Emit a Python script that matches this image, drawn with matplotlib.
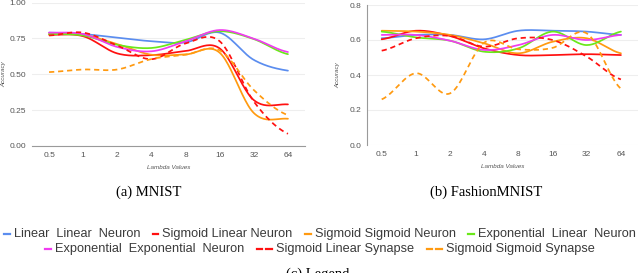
import numpy as np
import matplotlib

matplotlib.use("Agg")
import matplotlib.pyplot as plt
from matplotlib.lines import Line2D
from matplotlib.offsetbox import AnchoredOffsetbox, DrawingArea, HPacker, TextArea

plt.rcParams["font.family"] = ["Liberation Sans", "DejaVu Sans"]

lambdas = ["0.5", "1", "2", "4", "8", "16", "32", "64"]
series_names = [
    "Linear  Linear  Neuron",
    "Sigmoid Linear Neuron",
    "Sigmoid Sigmoid Neuron",
    "Exponential  Linear  Neuron",
    "Exponential  Exponential  Neuron",
    "Sigmoid Linear Synapse",
    "Sigmoid Sigmoid Synapse",
]

# MNIST accuracies, one list per series (same order as series_names)
mnist_lin_lin = [0.79, 0.78, 0.755, 0.73, 0.722, 0.79, 0.60, 0.525]
mnist_sig_lin = [0.775, 0.765, 0.645, 0.633, 0.662, 0.68, 0.32, 0.29]
mnist_sig_sig = [0.78, 0.775, 0.71, 0.636, 0.638, 0.65, 0.23, 0.19]
mnist_exp_lin = [0.78, 0.77, 0.705, 0.683, 0.74, 0.80, 0.745, 0.64]
mnist_exp_exp = [0.79, 0.78, 0.69, 0.66, 0.73, 0.808, 0.748, 0.655]
mnist_sig_lin_syn = [0.77, 0.79, 0.70, 0.605, 0.715, 0.73, 0.31, 0.085]
mnist_sig_sig_syn = [0.515, 0.533, 0.533, 0.606, 0.636, 0.667, 0.39, 0.215]

# FashionMNIST accuracies
fashion_lin_lin = [0.61, 0.629, 0.629, 0.604, 0.653, 0.653, 0.648, 0.629]
fashion_sig_lin = [0.604, 0.653, 0.623, 0.552, 0.514, 0.514, 0.519, 0.514]
fashion_sig_sig = [0.653, 0.648, 0.629, 0.581, 0.524, 0.59, 0.61, 0.524]
fashion_exp_lin = [0.648, 0.615, 0.596, 0.533, 0.552, 0.648, 0.571, 0.648]
fashion_exp_exp = [0.629, 0.629, 0.596, 0.543, 0.571, 0.629, 0.60, 0.629]
fashion_sig_lin_syn = [0.539, 0.61, 0.623, 0.562, 0.61, 0.60, 0.505, 0.375]
fashion_sig_sig_syn = [0.261, 0.41, 0.295, 0.585, 0.547, 0.555, 0.638, 0.322]

mnist = [mnist_lin_lin, mnist_sig_lin, mnist_sig_sig, mnist_exp_lin,
         mnist_exp_exp, mnist_sig_lin_syn, mnist_sig_sig_syn]
fashion = [fashion_lin_lin, fashion_sig_lin, fashion_sig_sig, fashion_exp_lin,
           fashion_exp_exp, fashion_sig_lin_syn, fashion_sig_sig_syn]

COLORS = ["#5b8def", "#ff1010", "#ff9a10", "#6ae81a", "#f03cf0", "#ff1010", "#ff9a10"]
DASHED = [False, False, False, False, False, True, True]
GRID = "#eeeeee"
AXIS = "#9a9a9a"
TICK = "#555555"


def smooth(values, steps=24):
    """Catmull-Rom curve through the points, like a 'function' curve chart."""
    p = np.asarray(values, dtype=float)
    p = np.concatenate([[p[0]], p, [p[-1]]])
    xs, ys = [], []
    t = np.linspace(0, 1, steps, endpoint=False)
    for i in range(1, len(p) - 2):
        p0, p1, p2, p3 = p[i - 1], p[i], p[i + 1], p[i + 2]
        y = 0.5 * (2 * p1 + (-p0 + p2) * t + (2 * p0 - 5 * p1 + 4 * p2 - p3) * t ** 2
                   + (-p0 + 3 * p1 - 3 * p2 + p3) * t ** 3)
        xs.append(i - 1 + t)
        ys.append(y)
    xs.append([len(p) - 3])
    ys.append([p[-2]])
    return np.concatenate(xs), np.concatenate(ys)


def draw_panel(ax, data, yticks, ylabels):
    for vals, color, dashed in zip(data, COLORS, DASHED):
        x, y = smooth(vals)
        ax.plot(x, y, color=color, lw=1.25, ls=(0, (3.0, 2.2)) if dashed else "-",
                solid_capstyle="round", zorder=3)
    ax.set_xticks(range(len(lambdas)), lambdas)
    ax.set_yticks(yticks, ylabels)
    ax.tick_params(length=0, labelsize=6, labelcolor=TICK)
    ax.tick_params(axis="x", pad=4.5)
    ax.tick_params(axis="y", pad=4)
    ax.grid(axis="y", color=GRID, lw=0.8, zorder=0)
    for s in ax.spines.values():
        s.set_visible(False)
    ax.set_xlabel("Lambda Values", fontsize=4.5, color=TICK, style="italic", labelpad=4)


fig = plt.figure(figsize=(6.4, 2.73), dpi=100)

ax1 = fig.add_axes([32 / 640, 127 / 273, 273 / 640, 143.5 / 273])
draw_panel(ax1, mnist, [0, 0.25, 0.5, 0.75, 1.0], ["0.00", "0.25", "0.50", "0.75", "1.00"])
ax1.set_xlim(-0.5, 7.5)
ax1.set_ylim(0, 1)
ax1.spines["bottom"].set_visible(True)
ax1.spines["bottom"].set_color(AXIS)
ax1.set_ylabel("Accuracy", fontsize=4.5, color=TICK, style="italic")
ax1.yaxis.set_label_coords(-26 / 273, 0.5)

ax2 = fig.add_axes([367 / 640, 128 / 273, 271 / 640, 140 / 273])
draw_panel(ax2, fashion, [0, 0.2, 0.4, 0.6, 0.8], ["0.0", "0.2", "0.4", "0.6", "0.8"])
ax2.set_xlim(-0.43, 7.5)
ax2.set_ylim(0, 0.8)
ax2.spines["left"].set_visible(True)
ax2.spines["left"].set_color(AXIS)
ax2.set_ylabel("Accuracy", fontsize=4.5, color=TICK, style="italic")
ax2.yaxis.set_label_coords(-27 / 271, 0.5)

serif = ["Liberation Serif", "DejaVu Serif"]
fig.text(149 / 640, 1 - 192 / 273, "(a) MNIST", family=serif, fontsize=10.5,
         ha="center", va="center")
fig.text(486 / 640, 1 - 192 / 273, "(b) FashionMNIST", family=serif, fontsize=10.5,
         ha="center", va="center")
fig.text(318 / 640, 1 - 267.5 / 273, "(c) Legend", family=serif, fontsize=10.5,
         ha="center", va="top")


def legend_item(i):
    da = DrawingArea(11 if DASHED[i] else 4, 6, 0, 0)
    segs = [(0, 4), (7, 11)] if DASHED[i] else [(0, 4)]
    for a, b in segs:
        da.add_artist(Line2D([a, b], [3, 3], color=COLORS[i], lw=1.6))
    txt = TextArea(series_names[i], textprops=dict(fontsize=9.2, color="#3a3a3a"))
    return HPacker(children=[da, txt], sep=3, align="center", pad=0)


for row, y_px in (([0, 1, 2, 3], 234), ([4, 5, 6], 249)):
    box = HPacker(children=[legend_item(i) for i in row], sep=9, align="center", pad=0)
    anchored = AnchoredOffsetbox(loc="center", child=box, pad=0, borderpad=0,
                                 frameon=False, bbox_to_anchor=(0.5, 1 - y_px / 273),
                                 bbox_transform=fig.transFigure)
    fig.add_artist(anchored)

fig.savefig("out.png", dpi=100)
